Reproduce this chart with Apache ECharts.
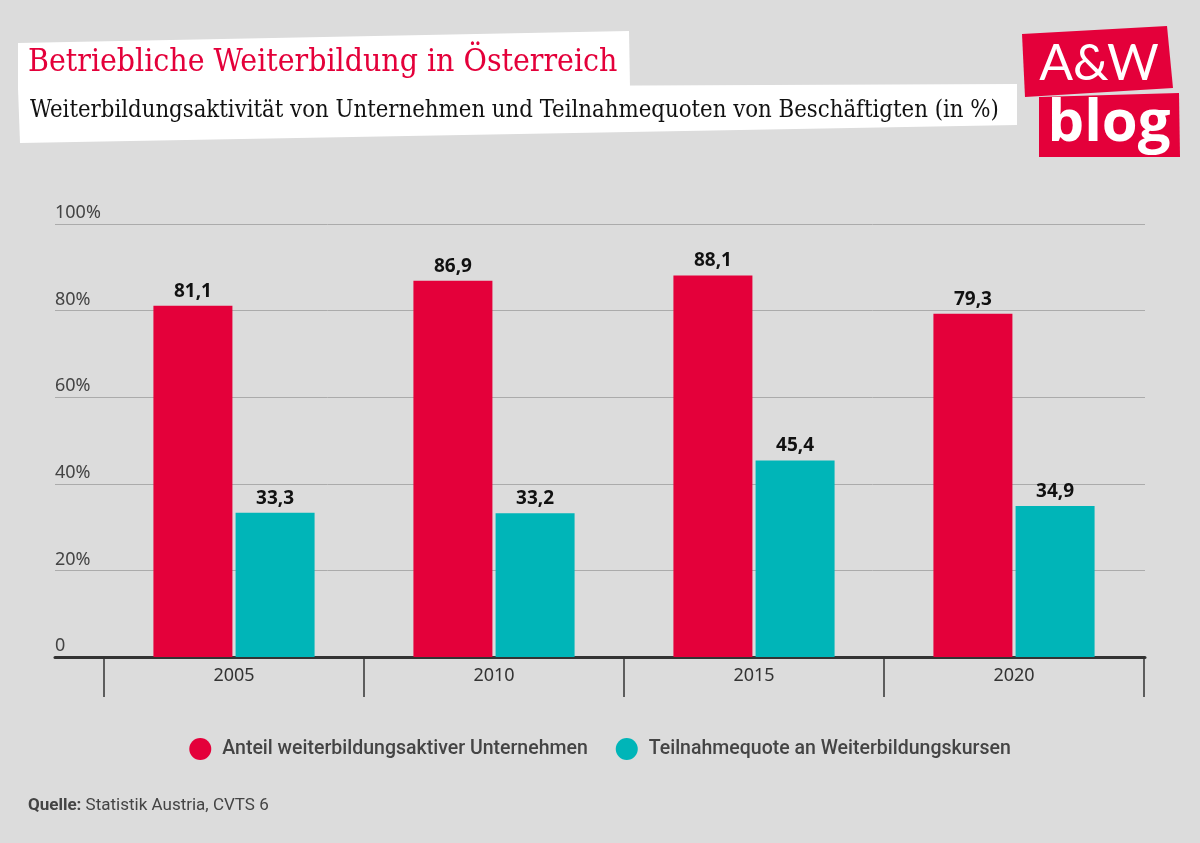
<!DOCTYPE html>
<html>
<head>
<meta charset="utf-8">
<script src="https://cdn.jsdelivr.net/npm/echarts@6/dist/echarts.min.js"></script>
<style>
html,body{margin:0;padding:0;background:#dcdcdc;}
#chart{width:1200px;height:843px;}
</style>
</head>
<body>
<div id="chart"></div>
<script>
const years = ['2005', '2010', '2015', '2020'];
const seriesNames = ['Anteil weiterbildungsaktiver Unternehmen', 'Teilnahmequote an Weiterbildungskursen'];
const unternehmen = [81.1, 86.9, 88.1, 79.3];
const teilnahme = [33.3, 33.2, 45.4, 34.9];
const yTicks = [0, 20, 40, 60, 80, 100];

const RED = '#e4003a';
const TEAL = '#00b5b8';
const fmt = v => String(v).replace('.', ',');

const chart = echarts.init(document.getElementById('chart'));
const barLabel = { show: true, position: 'top', distance: 5, fontSize: 19, fontWeight: 'bold', color: '#111',
  fontFamily: '"Noto Sans", sans-serif', formatter: p => fmt(p.value) };
const option = {
  backgroundColor: '#dcdcdc',
  animation: false,
  textStyle: { fontFamily: 'Roboto, "Noto Sans", sans-serif' },
  grid: [
    { left: 55, right: 55, top: 224, bottom: 186 },
    { left: 104, right: 56, top: 224, bottom: 186 }
  ],
  xAxis: [
    { type: 'value', gridIndex: 0, min: 0, max: 1, show: true,
      axisLine: { show: true, onZero: false, lineStyle: { color: '#333', width: 3 } },
      axisTick: { show: false }, axisLabel: { show: false }, splitLine: { show: false } },
    { type: 'category', gridIndex: 1, data: years,
      axisLine: { show: false },
      axisTick: { show: true, length: 40, alignWithLabel: false, lineStyle: { color: '#333', width: 1.5 } },
      axisLabel: { margin: 10, fontSize: 18, color: '#333', fontFamily: '"Noto Sans", sans-serif' } }
  ],
  yAxis: [
    { type: 'value', gridIndex: 0, min: 0, max: 100, interval: 20,
      axisLine: { show: false }, axisTick: { show: false },
      splitLine: { show: true, lineStyle: { color: '#ababab', width: 1 } },
      axisLabel: { inside: true, margin: 0, verticalAlign: 'bottom', padding: [0, 0, 2, 0],
        fontSize: 18, color: '#444', fontFamily: '"Noto Sans", sans-serif',
        formatter: v => (yTicks.includes(v) ? (v === 0 ? '0' : v + '%') : '') } },
    { type: 'value', gridIndex: 1, min: 0, max: 100, interval: 20, show: false }
  ],
  legend: {
    bottom: 78, left: 'center',
    icon: 'circle', itemWidth: 22, itemHeight: 22, itemGap: 28,
    textStyle: { fontSize: 19.5, fontWeight: 500, color: '#444', fontFamily: 'Roboto, sans-serif', padding: [0, 0, 0, 6] },
    data: seriesNames
  },
  series: [
    { name: seriesNames[0], type: 'bar', xAxisIndex: 1, yAxisIndex: 1, data: unternehmen,
      barWidth: 79, barGap: '4%', itemStyle: { color: RED }, label: barLabel },
    { name: seriesNames[1], type: 'bar', xAxisIndex: 1, yAxisIndex: 1, data: teilnahme,
      barWidth: 79, itemStyle: { color: TEAL }, label: barLabel }
  ],
  graphic: [
    { type: 'polygon', shape: { points: [[18, 43], [629, 31], [630, 88], [18, 90]] }, style: { fill: '#ffffff' } },
    { type: 'polygon', shape: { points: [[18, 88], [1017, 84], [1017, 125], [20, 143]] }, style: { fill: '#ffffff' } },
    { type: 'text', left: 28, top: 47, style: { text: 'Betriebliche Weiterbildung in Österreich', fill: RED,
      font: '31.7px "DejaVu Serif Condensed", "DejaVu Serif", serif' } },
    { type: 'text', left: 30, top: 99, style: { text: 'Weiterbildungsaktivität von Unternehmen und Teilnahmequoten von Beschäftigten (in %)', fill: '#111',
      font: '23.7px "DejaVu Serif Condensed", "DejaVu Serif", serif' } },
    { type: 'polygon', shape: { points: [[1022, 34], [1167, 26], [1173, 88], [1025, 97]] }, style: { fill: RED } },
    { type: 'polygon', shape: { points: [[1039, 97], [1179, 93], [1180, 157], [1039, 157]] }, style: { fill: RED } },
    { type: 'text', x: 1099, y: 64, style: { text: 'A&W', fill: '#fff', align: 'center', verticalAlign: 'middle',
      font: '50px Lato, "Open Sans", sans-serif' } },
    { type: 'text', x: 1109, y: 124, style: { text: 'blog', fill: '#fff', align: 'center', verticalAlign: 'middle',
      font: 'bold 58px "Open Sans", sans-serif' } },
    { type: 'text', left: 28, top: 797, style: { text: '{b|Quelle:} Statistik Austria, CVTS 6',
      font: '17px Roboto, sans-serif', fill: '#444',
      rich: { b: { fontWeight: 'bold', fontSize: 17, fill: '#444', fontFamily: 'Roboto, sans-serif' } } } }
  ]
};
chart.setOption(option);
</script>
</body>
</html>
